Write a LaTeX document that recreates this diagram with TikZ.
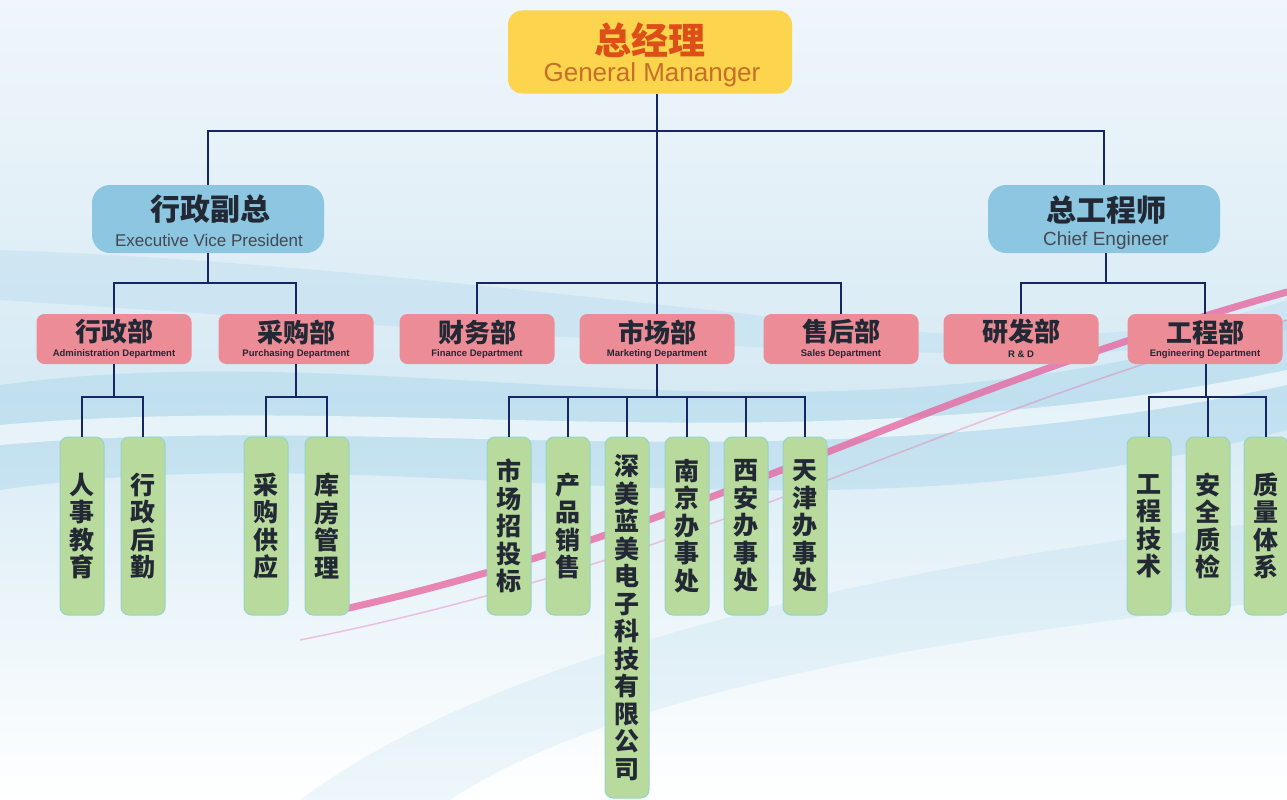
\documentclass[tikz,border=0pt]{standalone}
\usepackage{fontspec}
\setmainfont{Liberation Sans}
\newfontfamily\cjk{Noto Sans CJK SC}
\usetikzlibrary{positioning}
\definecolor{gmfill}{RGB}{252,212,78}
\definecolor{gmcn}{RGB}{222,78,24}
\definecolor{gmen}{RGB}{196,112,40}
\definecolor{vpfill}{RGB}{140,198,224}
\definecolor{deptfill}{RGB}{236,140,150}
\definecolor{leaffill}{RGB}{184,218,156}
\definecolor{leafedge}{RGB}{150,212,200}
\definecolor{navy}{RGB}{22,38,98}
\definecolor{darktxt}{RGB}{34,40,52}
\definecolor{bgtop}{RGB}{240,246,251}
\definecolor{bgmid}{RGB}{214,234,244}
\definecolor{swoosh}{RGB}{120,190,225}
\definecolor{pinkline}{RGB}{232,96,156}
\tikzset{
  gmbox/.style={rounded corners=14pt, fill=gmfill, minimum width=284pt, minimum height=83pt, inner sep=0pt},
  vpbox/.style={rounded corners=18pt, fill=vpfill, minimum width=232pt, minimum height=68pt, inner sep=0pt},
  deptbox/.style={rounded corners=8pt, fill=deptfill, minimum width=155pt, minimum height=50pt, inner sep=0pt},
  leafbox/.style={rounded corners=8pt, fill=leaffill, draw=leafedge, line width=1pt, minimum width=44pt, inner sep=0pt,
     align=center, text=darktxt, font=\cjk\bfseries\fontsize{25}{27.5}\selectfont},
  shortleaf/.style={leafbox, minimum height=178pt},
  longleaf/.style={leafbox, minimum height=361pt},
  gmcntxt/.style={text=gmcn, font=\cjk\bfseries\fontsize{37}{40}\selectfont, inner sep=0pt},
  gmentxt/.style={text=gmen, font=\fontsize{26}{28}\selectfont, inner sep=0pt},
  vpcntxt/.style={text=darktxt, font=\cjk\bfseries\fontsize{30}{32}\selectfont, inner sep=0pt},
  vpentxt/.style={text=darktxt!85, font=\fontsize{17}{19}\selectfont, inner sep=0pt},
  dcntxt/.style={text=darktxt, font=\cjk\bfseries\fontsize{26}{28}\selectfont, inner sep=0pt},
  dentxt/.style={text=darktxt, font=\bfseries\fontsize{9.5}{10}\selectfont, inner sep=0pt},
  conn/.style={draw=navy, line width=2.6pt},
}
\begin{document}
\begin{tikzpicture}[x=1pt,y=-1pt]
\useasboundingbox (0,0) rectangle (1287,800);
% background
\shade[top color=bgtop, bottom color=white, middle color=bgmid] (0,0) rectangle (1287,800);
\fill[swoosh, opacity=0.22] (0,385) .. controls (400,330) and (800,470) .. (1287,320) -- (1287,430) .. controls (800,560) and (400,430) .. (0,490) -- cycle;
\fill[white, opacity=0.6] (0,425) .. controls (400,390) and (800,470) .. (1287,370) -- (1287,385) .. controls (800,490) and (400,410) .. (0,445) -- cycle;
\fill[swoosh, opacity=0.15] (0,250) .. controls (300,260) and (600,300) .. (900,330) .. controls (1050,345) and (1200,330) .. (1287,300) -- (1287,330) .. controls (1100,380) and (600,340) .. (0,300) -- cycle;
\fill[swoosh, opacity=0.12] (300,800) .. controls (500,650) and (900,560) .. (1287,520) -- (1287,600) .. controls (900,640) and (600,700) .. (450,800) -- cycle;
\draw[pinkline, line width=7pt, opacity=0.75, line cap=round] (340,610) .. controls (700,530) and (900,400) .. (1287,292);
\draw[pinkline, line width=1.5pt, opacity=0.35] (300,640) .. controls (700,560) and (900,430) .. (1287,320);

% boxes
\node[gmbox] (gm) at (650,52) {};
\node[gmcntxt] (gmc) at (650,40) {总经理};
\node[gmentxt] (gme) at (652,75) {General Mananger};

\node[vpbox] (evp) at (208,219) {};
\node[vpcntxt] (evpc) at (210,209) {行政副总};
\node[vpentxt] (evpe) at (209,240) {Executive Vice President};

\node[vpbox] (ce) at (1104,219) {};
\node[vpcntxt] (cec) at (1106,210) {总工程师};
\node[vpentxt, font=\fontsize{19}{21}\selectfont] (cee) at (1106,241) {Chief Engineer};

\foreach \nm/\x/\cn/\en in {adm/114/行政部/Administration Department, pur/296/采购部/Purchasing Department, fin/477/财务部/Finance Department, mkt/657/市场部/Marketing Department, sal/841/售后部/Sales Department, rnd/1021/研发部/R \& D, eng/1205/工程部/Engineering Department}{
  \node[deptbox] (\nm) at (\x,339) {};
  \node[dcntxt] (\nm c) at (\x,332) {\cn};
  \node[dentxt] (\nm e) at (\x,354.5) {\en};
}

% leaves
\node[shortleaf] (a1) at (82,526) {人\\事\\教\\育};
\node[shortleaf] (a2) at (143,526) {行\\政\\后\\勤};
\node[shortleaf] (p1) at (266,526) {采\\购\\供\\应};
\node[shortleaf] (p2) at (327,526) {库\\房\\管\\理};
\node[shortleaf] (m1) at (509,526) {市\\场\\招\\投\\标};
\node[shortleaf] (m2) at (568,526) {产\\品\\销\\售};
\node[longleaf]  (m3) at (627,617.5) {深\\美\\蓝\\美\\电\\子\\科\\技\\有\\限\\公\\司};
\node[shortleaf] (m4) at (687,526) {南\\京\\办\\事\\处};
\node[shortleaf] (m5) at (746,526) {西\\安\\办\\事\\处};
\node[shortleaf] (m6) at (805,526) {天\\津\\办\\事\\处};
\node[shortleaf] (e1) at (1149,526) {工\\程\\技\\术};
\node[shortleaf] (e2) at (1208,526) {安\\全\\质\\检};
\node[shortleaf] (e3) at (1266,526) {质\\量\\体\\系};

% junctions
\coordinate (hT) at (657,131);
\coordinate (hM) at (657,283);
\coordinate (hE) at (208,283);
\coordinate (hC) at (1106,283);
\coordinate (hA) at (114,397);
\coordinate (hP) at (296,397);
\coordinate (hK) at (657,397);
\coordinate (hG) at (1206,397);

% connectors
\draw[conn] (gm.south -| hT) -- (hT);
\draw[conn] (evp.north) |- (hT) -| (ce.north);
\draw[conn] (hT) -- (mkt.north);
\draw[conn] (fin.north) |- (hM) -| (sal.north);
\draw[conn] (evp.south) -- (hE);
\draw[conn] (adm.north) |- (hE) -| (pur.north);
\draw[conn] (ce.south -| hC) -- (hC);
\draw[conn] (rnd.north) |- (hC) -| (eng.north);

\draw[conn] (adm.south) -- (hA);
\draw[conn] (a1.north) |- (hA) -| (a2.north);
\draw[conn] (pur.south) -- (hP);
\draw[conn] (p1.north) |- (hP) -| (p2.north);
\draw[conn] (mkt.south) -- (hK);
\draw[conn] (m1.north) |- (hK) -| (m6.north);
\draw[conn] (m2.north) -- (m2.north |- hK);
\draw[conn] (m3.north) -- (m3.north |- hK);
\draw[conn] (m4.north) -- (m4.north |- hK);
\draw[conn] (m5.north) -- (m5.north |- hK);
\draw[conn] (eng.south -| hG) -- (hG);
\draw[conn] (e1.north) |- (hG) -| (e3.north);
\draw[conn] (e2.north) -- (e2.north |- hG);
\end{tikzpicture}
\end{document}
